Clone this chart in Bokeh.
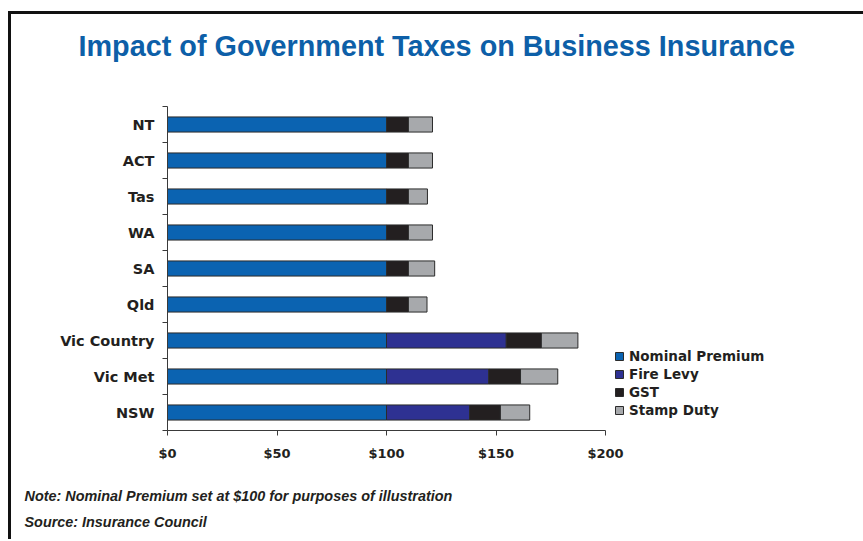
from bokeh.plotting import figure
from bokeh.models import (ColumnDataSource, FixedTicker, Legend, LegendItem, Title, Range1d)
from bokeh.embed import file_html
from bokeh.resources import INLINE

# ---- data ----
states = ["NT", "ACT", "Tas", "WA", "SA", "Qld", "Vic Country", "Vic Met", "NSW"]
nominal_premium = [100, 100, 100, 100, 100, 100, 100, 100, 100]
fire_levy = [0, 0, 0, 0, 0, 0, 54.7, 46.7, 37.9]
gst = [10, 10, 10, 10, 10, 10, 16.0, 14.5, 14.1]
stamp_duty = [11, 11, 8.7, 11, 12, 8.5, 16.7, 17.0, 13.4]
series_names = ["Nominal Premium", "Fire Levy", "GST", "Stamp Duty"]
x_ticks = [0, 50, 100, 150, 200]
x_tick_labels = ["$0", "$50", "$100", "$150", "$200"]

colors = ["#0b63b1", "#2e3192", "#231f20", "#a7a9ac"]
n = len(states)
ypos = [n - 1 - i + 0.5 for i in range(n)]

source = ColumnDataSource(dict(
    y=ypos,
    nominal=nominal_premium,
    fire=fire_levy,
    gst=gst,
    stamp=stamp_duty,
))

p = figure(frame_width=438, frame_height=324, output_backend="svg", toolbar_location=None,
           x_range=Range1d(0, 200), y_range=Range1d(0, n),
           min_border_left=156, min_border_right=240,
           min_border_top=92, min_border_bottom=109)
p.title = None
p.outline_line_color = None
p.xgrid.visible = False
p.ygrid.visible = False
p.background_fill_color = "white"
p.border_fill_color = "white"
p.styles = {"border-top": "3px solid #111111", "border-left": "3px solid #111111",
            "margin-left": "8px", "margin-top": "11px"}

renderers = p.hbar_stack(["nominal", "fire", "gst", "stamp"], y="y", height=0.42,
                         color=colors, line_color="#2b2b2b", line_width=1,
                         source=source)

# axes
axis_font = "DejaVu Sans"
p.xaxis.ticker = FixedTicker(ticks=x_ticks, minor_ticks=[])
p.xaxis.major_label_overrides = {t: l for t, l in zip(x_ticks, x_tick_labels)}
p.xaxis.major_tick_out = 5
p.xaxis.major_tick_in = 0
p.xaxis.axis_line_color = "#3a3a3a"
p.xaxis.major_tick_line_color = "#3a3a3a"
p.xaxis.minor_tick_line_color = None
p.xaxis.major_label_text_font = axis_font
p.xaxis.major_label_text_font_style = "bold"
p.xaxis.major_label_text_font_size = "13px"
p.xaxis.major_label_text_color = "#231f20"
p.xaxis.major_label_standoff = 10

p.yaxis.ticker = FixedTicker(ticks=ypos, minor_ticks=list(range(n + 1)))
p.yaxis.major_label_overrides = {y: s for y, s in zip(ypos, states)}
p.yaxis.major_tick_line_color = None
p.yaxis.major_tick_out = 0
p.yaxis.major_tick_in = 0
p.yaxis.minor_tick_out = 5
p.yaxis.minor_tick_in = 0
p.yaxis.minor_tick_line_color = "#3a3a3a"
p.yaxis.axis_line_color = "#3a3a3a"
p.yaxis.major_label_text_font = axis_font
p.yaxis.major_label_text_font_style = "bold"
p.yaxis.major_label_text_font_size = "14.5px"
p.yaxis.major_label_text_color = "#231f20"
p.yaxis.major_label_standoff = 8

# legend (right side panel)
items = [LegendItem(label=name, renderers=[r]) for name, r in zip(series_names, renderers)]
legend = Legend(items=items, location=(9, 12), padding=0, margin=0,
                spacing=2, glyph_width=10, glyph_height=10, label_height=14,
                label_standoff=5, border_line_color=None,
                background_fill_alpha=0,
                label_text_font=axis_font, label_text_font_style="bold",
                label_text_font_size="13.5px", label_text_color="#231f20")
p.add_layout(legend, "right")

# title (above panel) with a spacer between it and the plot frame
top_spacer = Title(text=" ", text_font_size="1px", standoff=42)
title = Title(text="Impact of Government Taxes on Business Insurance",
              text_font="Liberation Sans", text_font_style="bold",
              text_font_size="28.8px", text_color="#0d5fa8",
              align="left", offset=-89, standoff=0)
p.add_layout(top_spacer, "above")
p.add_layout(title, "above")

# notes (below panel)
bottom_spacer = Title(text=" ", text_font_size="1px", standoff=19)
note = Title(text="Note: Nominal Premium set at $100 for purposes of illustration",
             text_font="Liberation Sans", text_font_style="bold italic",
             text_font_size="14.4px", text_color="#231f20",
             align="left", offset=-143, standoff=0)
source_note = Title(text="Source: Insurance Council",
                    text_font="Liberation Sans", text_font_style="bold italic",
                    text_font_size="14.4px", text_color="#231f20",
                    align="left", offset=-143, standoff=16)
p.add_layout(bottom_spacer, "below")
p.add_layout(note, "below")
p.add_layout(source_note, "below")

open("out.html", "w").write(file_html(p, INLINE))
